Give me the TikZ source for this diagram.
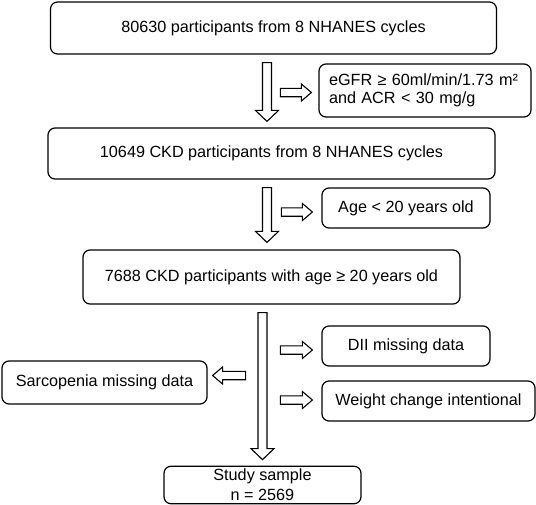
\documentclass[tikz,border=0pt]{standalone}
\usepackage{fontspec}
\setmainfont{Liberation Sans}
\usetikzlibrary{calc}

\begin{document}
\begin{tikzpicture}[x=1pt,y=-1pt,
  b/.style={draw,rounded corners=7pt,line width=1.2pt,align=center,inner sep=0pt,
            font=\fontsize{16.2}{18.5}\selectfont},
  hollow/.style n args={3}{line width=1.1pt,to path={
     let \p1=($(\tikztotarget)!#3!(\tikztostart)$) in
     ($(\tikztostart)!#1!90:(\tikztotarget)$) -- ($(\p1)!#1!90:(\tikztotarget)$)
     -- ($(\p1)!#2!90:(\tikztotarget)$) -- (\tikztotarget)
     -- ($(\p1)!#2!-90:(\tikztotarget)$) -- ($(\p1)!#1!-90:(\tikztotarget)$)
     -- ($(\tikztostart)!#1!-90:(\tikztotarget)$) -- cycle}},
  va/.style={hollow={4.5pt}{11.5pt}{11pt}},
  ha/.style={hollow={4.2pt}{8.5pt}{10pt}}
]
\useasboundingbox (0,0) rectangle (536,504);
\node[b,minimum width=446pt,minimum height=52pt] (n1) at (273.5,28) {80630 participants from 8 NHANES cycles};
\node[b,minimum width=212pt,minimum height=53pt,text width=192pt,align=left] (n2) at (425,90.5)
  {eGFR ≥ 60ml/min/1.73 m²\\and ACR < 30 mg/g};
\node[b,minimum width=447pt,minimum height=51pt] (n3) at (271.5,153.5) {10649 CKD participants from 8 NHANES cycles};
\node[b,minimum width=168pt,minimum height=40pt] (n4) at (406,208) {Age < 20 years old};
\node[b,minimum width=377pt,minimum height=54pt] (n5) at (271.5,277) {7688 CKD participants with age ≥ 20 years old};
\node[b,minimum width=168pt,minimum height=40pt] (n6) at (406,346) {DII missing data};
\node[b,minimum width=205pt,minimum height=43pt] (n7) at (104.5,382.5) {Sarcopenia missing data};
\node[b,minimum width=213pt,minimum height=40pt] (n8) at (428.5,401) {Weight change intentional};
\node[b,minimum width=197pt,minimum height=37.5pt,font=\fontsize{16.2}{20}\selectfont] (n9) at (262.5,485)
  {Study sample\\n = 2569};
\draw[va] ($(n1.south)+(-6.5,8)$) to ($(n3.north)+(-4.5,-6)$);
\draw[ha] ($(n2.west)+(-38,2)$) to ($(n2.west)+(-7,2)$);
\draw[va] ($(n3.south)+(-4.5,8)$) to ($(n5.north)+(-4.5,-7)$);
\draw[ha] ($(n4.west)+(-40,4)$) to ($(n4.west)+(-9,4)$);
\draw[va] ($(n5.south -| n9.north)+(0,8)$) to ($(n9.north)+(0,-6)$);
\draw[ha] ($(n6.west)+(-41,4)$) to ($(n6.west)+(-9,4)$);
\draw[ha] ($(n7.east)+(38,-7)$) to ($(n7.east)+(5,-7)$);
\draw[ha] ($(n8.west)+(-41,-1)$) to ($(n8.west)+(-9,-1)$);
\end{tikzpicture}
\end{document}
